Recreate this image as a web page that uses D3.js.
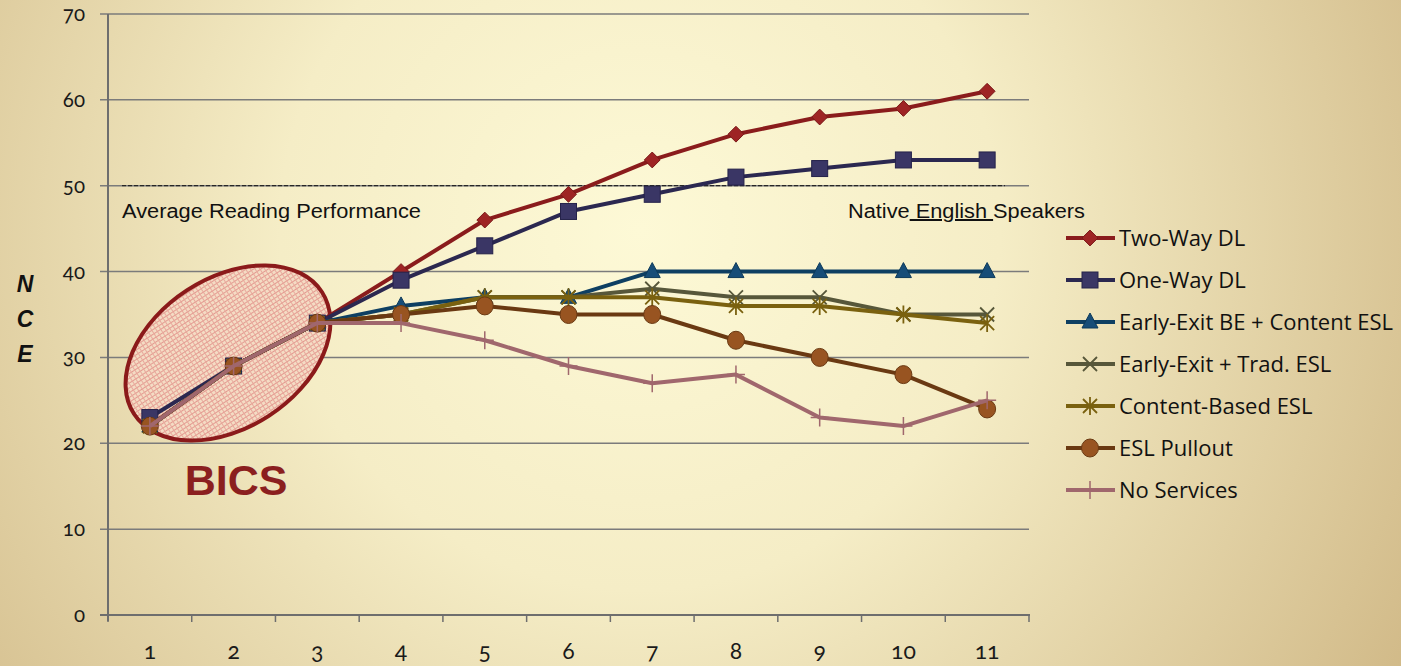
<!DOCTYPE html>
<html>
<head>
<meta charset="utf-8" />
<title>NCE reading</title>
<script src="https://d3js.org/d3.v7.min.js"></script>
<style>
  body { margin: 0; overflow: hidden; }
</style>
</head>
<body>
<script>

var grades = [1, 2, 3, 4, 5, 6, 7, 8, 9, 10, 11];
var yTicks = [0, 10, 20, 30, 40, 50, 60, 70];

var twoWay      = [22, 29, 34, 40, 46, 49, 53, 56, 58, 59, 61];
var oneWay      = [23, 29, 34, 39, 43, 47, 49, 51, 52, 53, 53];
var earlyExitBE = [22, 29, 34, 36, 37, 37, 40, 40, 40, 40, 40];
var earlyTrad   = [22, 29, 34, 35, 37, 37, 38, 37, 37, 35, 35];
var contentESL  = [22, 29, 34, 35, 37, 37, 37, 36, 36, 35, 34];
var eslPullout  = [22, 29, 34, 35, 36, 35, 35, 32, 30, 28, 24];
var noServices  = [22, 29, 34, 34, 32, 29, 27, 28, 23, 22, 25];

var seriesNames = ["Two-Way DL", "One-Way DL", "Early-Exit BE + Content ESL",
  "Early-Exit + Trad. ESL", "Content-Based ESL", "ESL Pullout", "No Services"];

var series = [
  { name: seriesNames[0], values: twoWay,      line: "#8a1c1c", fill: "#9e2424", mark: "diamond" },
  { name: seriesNames[1], values: oneWay,      line: "#2b2850", fill: "#3a3665", mark: "square" },
  { name: seriesNames[2], values: earlyExitBE, line: "#0e3f62", fill: "#174d78", mark: "triangle" },
  { name: seriesNames[3], values: earlyTrad,   line: "#57573a", fill: "#57573a", mark: "x" },
  { name: seriesNames[4], values: contentESL,  line: "#7a610f", fill: "#7a610f", mark: "star" },
  { name: seriesNames[5], values: eslPullout,  line: "#6a3912", fill: "#985421", mark: "circle" },
  { name: seriesNames[6], values: noServices,  line: "#a0676d", fill: "#a0676d", mark: "plus" }
];

var W = 1401, H = 666;
var svg = d3.select("body").append("svg").attr("width", W).attr("height", H);
var defs = svg.append("defs");

// background
var bg = defs.append("radialGradient").attr("id", "bg")
  .attr("gradientUnits", "userSpaceOnUse")
  .attr("cx", 640).attr("cy", 230).attr("r", 900);
bg.append("stop").attr("offset", 0).attr("stop-color", "#fdf9d6");
bg.append("stop").attr("offset", 0.4).attr("stop-color", "#f5edc6");
bg.append("stop").attr("offset", 1).attr("stop-color", "#d0b886");
svg.append("rect").attr("width", W).attr("height", H).attr("fill", "url(#bg)");

// hatch pattern for the BICS ellipse
var pat = defs.append("pattern").attr("id", "hatch")
  .attr("patternUnits", "userSpaceOnUse").attr("width", 4).attr("height", 4);
pat.append("rect").attr("width", 4).attr("height", 4).attr("fill", "#f4dcc4");
pat.append("rect").attr("width", 4).attr("height", 1).attr("fill", "#e49a90");
pat.append("rect").attr("width", 1).attr("height", 4).attr("fill", "#e8a89c");

var x = d3.scaleBand().domain(grades).range([108, 1029]);
var y = d3.scaleLinear().domain([0, 70]).range([615, 14]);
var cx = function(g) { return x(g) + x.bandwidth() / 2; };

// grid lines
svg.selectAll("line.grid").data(yTicks).enter().append("line")
  .attr("x1", 100).attr("x2", 1029)
  .attr("y1", function(d) { return y(d); }).attr("y2", function(d) { return y(d); })
  .attr("stroke", "#7b7b7b").attr("stroke-width", 1.5);

// axes
svg.append("line").attr("x1", 108).attr("x2", 108).attr("y1", y(70)).attr("y2", 621)
  .attr("stroke", "#6e6e6e").attr("stroke-width", 2);
svg.append("line").attr("x1", 100).attr("x2", 1030).attr("y1", y(0)).attr("y2", y(0))
  .attr("stroke", "#6e6e6e").attr("stroke-width", 2);
var bounds = grades.map(function(g) { return x(g); }).concat([1029]);
svg.selectAll("line.xt").data(bounds).enter().append("line")
  .attr("x1", function(d) { return d; }).attr("x2", function(d) { return d; })
  .attr("y1", y(0)).attr("y2", y(0) + 7)
  .attr("stroke", "#6e6e6e").attr("stroke-width", 1.5);

svg.selectAll("text.yl").data(yTicks).enter().append("text")
  .attr("x", 85).attr("y", function(d) { return y(d) + 7; })
  .attr("text-anchor", "end")
  .style("font-family", "Lato, 'Open Sans', sans-serif")
  .style("font-variant-numeric", "oldstyle-nums")
  .style("font-size", "20.5px").attr("fill", "#1a1a1a")
  .text(function(d) { return d; });

svg.selectAll("text.xl").data(grades).enter().append("text")
  .attr("x", function(d) { return cx(d); }).attr("y", 659)
  .attr("text-anchor", "middle")
  .style("font-family", "Lato, 'Open Sans', sans-serif")
  .style("font-variant-numeric", "oldstyle-nums")
  .style("font-size", "23px").attr("fill", "#1a1a1a")
  .text(function(d) { return d; });

// NCE label
["N", "C", "E"].forEach(function(c, i) {
  svg.append("text").attr("x", 25).attr("y", 292 + i * 35)
    .attr("text-anchor", "middle")
    .style("font-family", "'Liberation Sans', Arial, sans-serif")
    .style("font-size", "23px").style("font-weight", "bold").style("font-style", "italic")
    .attr("fill", "#111").text(c);
});

// average line
svg.append("line").attr("x1", 122).attr("x2", 1005).attr("y1", y(50)).attr("y2", y(50))
  .attr("stroke", "#111").attr("stroke-width", 1).attr("stroke-dasharray", "4,2");
svg.append("text").attr("x", 122).attr("y", 218)
  .style("font-family", "'Liberation Sans', Arial, sans-serif").style("font-size", "20px")
  .attr("textLength", 299).attr("lengthAdjust", "spacingAndGlyphs")
  .attr("fill", "#111").text("Average Reading Performance");
var nt = svg.append("text").attr("x", 848).attr("y", 218)
  .style("font-family", "'Liberation Sans', Arial, sans-serif").style("font-size", "20px")
  .attr("textLength", 237).attr("lengthAdjust", "spacingAndGlyphs")
  .attr("fill", "#111").attr("xml:space", "preserve");
nt.append("tspan").text("Native");
nt.append("tspan").style("text-decoration", "underline").text(" English ");
nt.append("tspan").text("Speakers");

// BICS ellipse
svg.append("ellipse").attr("cx", 228).attr("cy", 353).attr("rx", 112).attr("ry", 75)
  .attr("transform", "rotate(-33,228,353)")
  .attr("fill", "url(#hatch)").attr("stroke", "#8b1a1a").attr("stroke-width", 4);

svg.append("text").attr("x", 236).attr("y", 495).attr("text-anchor", "middle")
  .style("font-family", "'Liberation Sans', Arial, sans-serif")
  .style("font-size", "43px").style("font-weight", "bold")
  .attr("fill", "#8b1f1f").text("BICS");

// markers
function drawMarker(g, s, px, py) {
  var m = s.mark;
  if (m === "diamond") {
    g.append("path").attr("d", d3.symbol(d3.symbolDiamond2 || d3.symbolDiamond, 160)())
      .attr("transform", "translate(" + px + "," + py + ")")
      .attr("fill", s.fill).attr("stroke", "#7a1818").attr("stroke-width", 1);
  } else if (m === "square") {
    g.append("rect").attr("x", px - 8).attr("y", py - 8).attr("width", 16).attr("height", 16)
      .attr("fill", s.fill).attr("stroke", "#25224a").attr("stroke-width", 1);
  } else if (m === "triangle") {
    g.append("path").attr("d", "M0,-9L8,6L-8,6Z")
      .attr("transform", "translate(" + px + "," + py + ")")
      .attr("fill", s.fill).attr("stroke", "#0d3a5a").attr("stroke-width", 1);
  } else if (m === "circle") {
    g.append("ellipse").attr("cx", px).attr("cy", py).attr("rx", 8.5).attr("ry", 9)
      .attr("fill", s.fill).attr("stroke", "#6a3912").attr("stroke-width", 1);
  } else if (m === "x") {
    g.append("path").attr("d", "M-7,-7L7,7M-7,7L7,-7")
      .attr("transform", "translate(" + px + "," + py + ")")
      .attr("stroke", s.fill).attr("stroke-width", 1.8).attr("fill", "none");
  } else if (m === "star") {
    g.append("path").attr("d", "M-7,-7L7,7M-7,7L7,-7M0,-9L0,9")
      .attr("transform", "translate(" + px + "," + py + ")")
      .attr("stroke", s.fill).attr("stroke-width", 1.8).attr("fill", "none");
  } else if (m === "plus") {
    g.append("path").attr("d", "M0,-9L0,9M-9,0L9,0")
      .attr("transform", "translate(" + px + "," + py + ")")
      .attr("stroke", s.fill).attr("stroke-width", 1.5).attr("fill", "none");
  }
}

var line = d3.line().x(function(d, i) { return cx(grades[i]); }).y(function(d) { return y(d); });

series.forEach(function(s) {
  var g = svg.append("g");
  g.append("path").datum(s.values).attr("d", line)
    .attr("fill", "none").attr("stroke", s.line).attr("stroke-width", 4)
    .attr("stroke-linejoin", "round");
  s.values.forEach(function(v, i) { drawMarker(g, s, cx(grades[i]), y(v)); });
});

// legend
series.forEach(function(s, i) {
  var ly = 238 + i * 42;
  var g = svg.append("g");
  g.append("line").attr("x1", 1066).attr("x2", 1115).attr("y1", ly).attr("y2", ly)
    .attr("stroke", s.line).attr("stroke-width", 4);
  drawMarker(g, s, 1090, ly);
  g.append("text").attr("x", 1119).attr("y", ly + 7.5)
    .style("font-family", "'Open Sans', 'Noto Sans', sans-serif").style("font-size", "22px")
    .attr("fill", "#111").text(s.name);
});

</script>
</body>
</html>
